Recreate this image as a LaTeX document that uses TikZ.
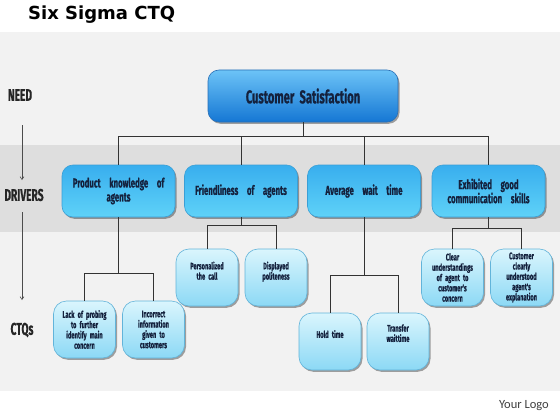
\documentclass[tikz,border=0pt]{standalone}
\usepackage{fontspec}
\usetikzlibrary{shadows,arrows.meta}
\newfontfamily\agency[FakeStretch=0.6,FakeBold=0.6]{Fira Sans}
\newfontfamily\titlefnt{DejaVu Sans}
\newfontfamily\logofnt{Carlito}
\definecolor{bgg}{HTML}{F2F2F2}
\definecolor{bandg}{HTML}{DEDEDE}
\definecolor{navy}{HTML}{14213D}
\definecolor{linec}{HTML}{333333}
\definecolor{topT}{HTML}{6CC3F7}
\definecolor{topB}{HTML}{1577D4}
\definecolor{topD}{HTML}{2A6FB5}
\definecolor{drvT}{HTML}{38AEEE}
\definecolor{drvB}{HTML}{5FD2F8}
\definecolor{drvD}{HTML}{3A9FD6}
\definecolor{ctqT}{HTML}{DAF5FD}
\definecolor{ctqB}{HTML}{8CD9F5}
\definecolor{ctqD}{HTML}{62B4DA}
\definecolor{logoc}{HTML}{404040}
\begin{document}
\begin{tikzpicture}[x=1pt,y=-1pt,
  shad/.style={drop shadow={shadow xshift=1.5pt,shadow yshift=-1.8pt,opacity=0.35,fill=black}},
  topbox/.style={shad,rounded corners=11pt,draw=topD,line width=0.6pt,top color=topT,bottom color=topB,
    minimum width=190pt,minimum height=52pt,inner sep=0pt,align=center,text=navy,
    font=\agency\bfseries\fontsize{18.5}{20}\selectfont},
  drvbox/.style={shad,rounded corners=11pt,draw=drvD,line width=0.6pt,top color=drvT,bottom color=drvB,
    minimum width=113pt,minimum height=52pt,inner sep=0pt,text width=110pt,align=center,text=navy,
    font=\agency\bfseries\fontsize{13}{14}\selectfont},
  ctqbox/.style={shad,rounded corners=13pt,draw=ctqD,line width=0.6pt,top color=ctqT,bottom color=ctqB,
    minimum width=62pt,minimum height=57pt,inner sep=0pt,text width=61pt,align=center,text=navy,
    font=\agency\bfseries\fontsize{9.5}{10.3}\selectfont},
  sidelab/.style={font=\agency\bfseries\fontsize{17}{19}\selectfont,text=black!85,inner sep=0pt},
  conn/.style={draw=linec,line width=0.9pt},
  sidearrow/.style={draw=black!70,line width=0.5pt,-{Straight Barb[length=3pt,width=4pt]}}
]
\useasboundingbox (0,0) rectangle (560,420);
\fill[white] (0,0) rectangle (560,420);
\fill[bgg] (0,32) rectangle (560,391);
\fill[bandg] (0,145) rectangle (560,232);

% title and logo
\node[anchor=west,inner sep=0pt,font=\titlefnt\bfseries\fontsize{18}{21}\selectfont] (title) at (28,15) {Six Sigma CTQ};
\node[anchor=east,inner sep=0pt,font=\logofnt\fontsize{12.5}{14}\selectfont,text=logoc] (logo) at (549,406) {Your Logo};

% side labels
\node[sidelab] (need) at (20,95) {NEED};
\node[sidelab] (drivers) at (24,195) {DRIVERS};
\node[sidelab] (ctqs) at (22,330) {CTQs};
\coordinate (a1s) at (22,125);
\coordinate (a1e) at (22,180);
\coordinate (a2s) at (22,212);
\coordinate (a2e) at (22,300);
\draw[sidearrow] (a1s) -- (a1e);
\draw[sidearrow] (a2s) -- (a2e);

% main
\node[topbox] (cs) at (303,96) {Customer\ \ Satisfaction};

% drivers
\node[drvbox] (d1) at (118.5,191) {Product\ \ knowledge\ \ of\\agents};
\node[drvbox] (d2) at (241,191) {Friendliness\ \ of\ \ agents};
\node[drvbox] (d3) at (364,191) {Average\ \ wait\ \ time};
\node[drvbox] (d4) at (488.5,191) {Exhibited\ \ good\\communication\ \ skills};

% CTQs
\node[ctqbox] (c11) at (84.5,329.5) {Lack of probing\\to further\\identify main\\concern};
\node[ctqbox] (c12) at (153.5,329.5) {Incorrect\\information\\given to\\customers};
\node[ctqbox,text depth=24pt] (c21) at (207,277.5) {Personalized\\the call};
\node[ctqbox,text depth=24pt] (c22) at (276,277.5) {Displayed\\politeness};
\node[ctqbox,text depth=15pt] (c31) at (330,341.5) {Hold time};
\node[ctqbox,text depth=27pt] (c32) at (398,341.5) {Transfer\\waittime};
\node[ctqbox] (c41) at (452.5,277.5) {Clear\\understandings\\of agent to\\customer's\\concern};
\node[ctqbox] (c42) at (521.5,277.5) {Customer\\clearly\\understood\\agent's\\explanation};

% connectors
\coordinate (bus) at (0,136);
\coordinate (br1) at (0,273);
\coordinate (br2) at (0,225);
\coordinate (br3) at (0,275);
\coordinate (br4) at (0,228);

\draw[conn] (cs.south) -- (cs.south |- bus);
\draw[conn] (d1.north) |- (d4.north |- bus) -- (d4.north);
\draw[conn] (d2.north) -- (d2.north |- bus);
\draw[conn] (d3.north) -- (d3.north |- bus);

\draw[conn] (d1.south) -- (d1.south |- br1);
\draw[conn] (c11.north) |- (c12.north |- br1) -- (c12.north);
\draw[conn] (d2.south) -- (d2.south |- br2);
\draw[conn] (c21.north) |- (c22.north |- br2) -- (c22.north);
\draw[conn] (d3.south) -- (d3.south |- br3);
\draw[conn] (c31.north) |- (c32.north |- br3) -- (c32.north);
\draw[conn] (d4.south) -- (d4.south |- br4);
\draw[conn] (c41.north) |- (c42.north |- br4) -- (c42.north);
\end{tikzpicture}
\end{document}
